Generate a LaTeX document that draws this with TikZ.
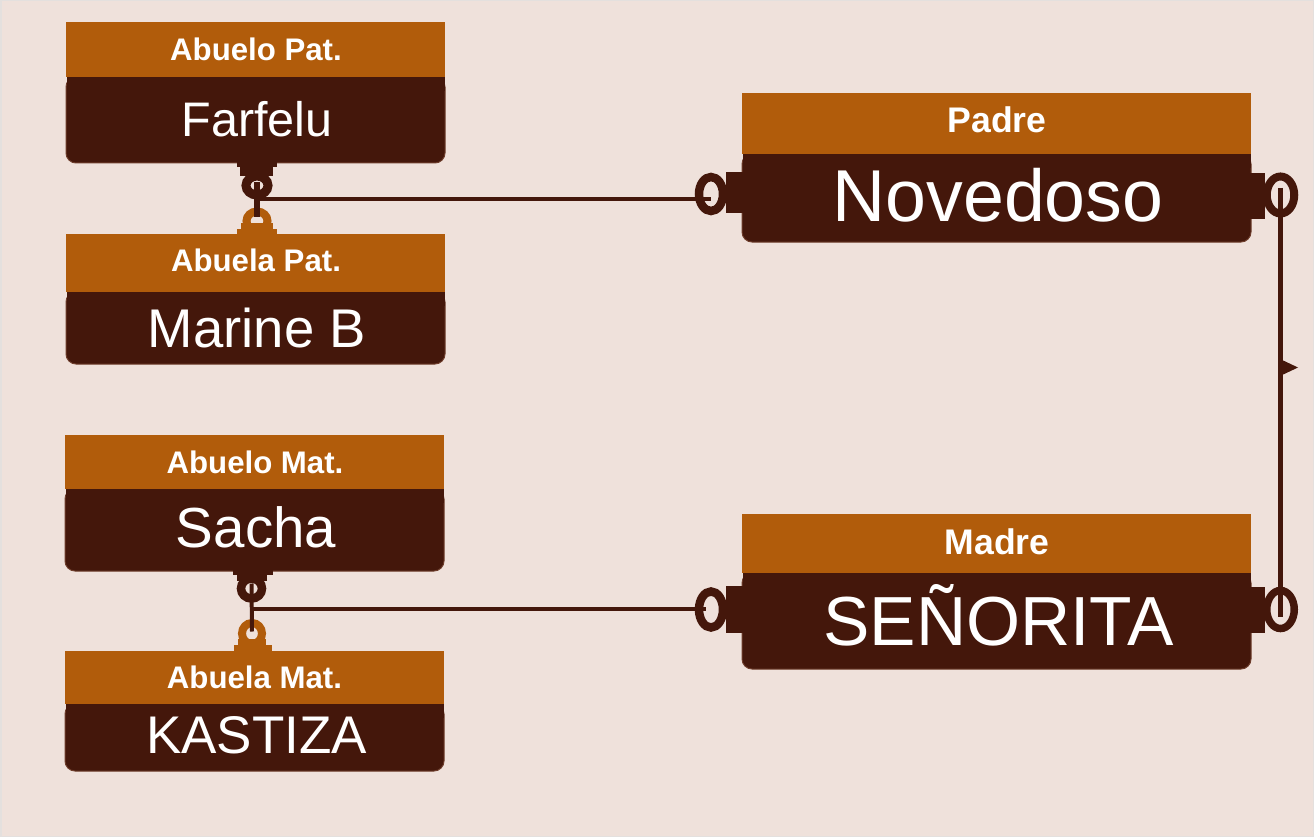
\documentclass[tikz,border=0pt]{standalone}
\usepackage{fontspec}
\setmainfont{Liberation Sans}
\usetikzlibrary{shapes.geometric}
\definecolor{bgc}{HTML}{EFE1DB}
\definecolor{hdr}{HTML}{B15C0B}
\definecolor{bdy}{HTML}{44170B}
\definecolor{edgec}{HTML}{6E3D2C}
\definecolor{framec}{HTML}{E4E0DE}
\newcommand\fsz[1]{\fontsize{#1}{#1}\selectfont}
\newcommand\entitybox[5]{%
  \filldraw[fill=bdy, draw=edgec, line width=1pt, rounded corners=10pt] (#1,#4) rectangle (#2,#5);
  \fill[bdy] (#1+0.5,#4) rectangle (#2-0.5,#4+14);
  \fill[hdr] (#1,#3) rectangle (#2,#4);
}
\begin{document}
\begin{tikzpicture}[x=1pt,y=-1pt,
  txt/.style={text=white, inner sep=0pt, anchor=base},
  htxt/.style={txt, font=\bfseries\fsz{31.2}},
  bightxt/.style={txt, font=\bfseries\fsz{35.6}},
  ringd/.style={ellipse, draw=bdy, inner sep=0pt},
  ringo/.style={ellipse, draw=hdr, inner sep=0pt},
  conn/.style={draw=bdy, line width=4pt},
]
\fill[bgc] (0,0) rectangle (1314,837);
\draw[framec, line width=1.5pt] (0.75,0.75) rectangle (1313.25,836.25);
\useasboundingbox (0,0) rectangle (1314,837);

% entity boxes
\entitybox{66}{445}{22}{77}{163}
\entitybox{66}{445}{234}{292}{364}
\entitybox{65}{444}{435}{489}{571}
\entitybox{65}{444}{651}{704}{771}
\entitybox{742}{1251}{93}{154}{242}
\entitybox{742}{1251}{514}{573}{669}

% texts
\node[htxt] (apH) at (256,60.5) {Abuelo Pat.};
\node[txt, font=\fsz{48.5}] (apB) at (257,137) {Farfelu};
\node[htxt] (bpH) at (256,271) {Abuela Pat.};
\node[txt, font=\fsz{54.5}] (bpB) at (257,347.5) {Marine B};
\node[htxt] (amH) at (255,473) {Abuelo Mat.};
\node[txt, font=\fsz{56.5}] (amB) at (256,547.5) {Sacha};
\node[htxt] (bmH) at (254.5,688) {Abuela Mat.};
\node[txt, font=\fsz{53}] (bmB) at (256.5,753.5) {KASTIZA};
\node[bightxt] (paH) at (997,133) {Padre};
\node[txt, font=\fsz{73.5}] (paB) at (998,222) {Novedoso};
\node[bightxt] (maH) at (997,554) {Madre};
\node[txt, font=\fsz{69.5}] (maB) at (998.5,645) {SEÑORITA};

% tabs
\fill[bdy] (237,162) rectangle (277,167);
\fill[bdy] (240,166) rectangle (273,176);
\fill[hdr] (241,223) rectangle (273,230);
\fill[hdr] (237,229) rectangle (277,235);
\fill[bdy] (233,570) rectangle (273,575);
\fill[bdy] (237,574) rectangle (267,581);
\fill[hdr] (238,639) rectangle (266,646);
\fill[hdr] (234,645) rectangle (272,651);
\fill[bdy] (726,172) rectangle (743,213);
\fill[bdy] (1250,173) rectangle (1265,219);
\fill[bdy] (726,586) rectangle (743,633);
\fill[bdy] (1250,587) rectangle (1265,633);

% rings
\node[ringd, line width=9pt, minimum width=22pt, minimum height=19pt] (r1) at (257,185.5) {};
\node[ringo, line width=8pt, minimum width=21pt, minimum height=19pt] (r2) at (257,221) {};
\node[ringd, line width=8.5pt, minimum width=21pt, minimum height=20pt] (r3) at (251.5,588.5) {};
\node[ringo, line width=8pt, minimum width=20pt, minimum height=21pt] (r4) at (252,633.5) {};
\node[ringd, line width=8.5pt, minimum width=24pt, minimum height=34pt] (r5) at (711,194) {};
\node[ringd, line width=8pt, minimum width=27.5pt, minimum height=37pt] (r6) at (1280.5,195) {};
\node[ringd, line width=8.5pt, minimum width=24pt, minimum height=36pt] (r7) at (711,609.5) {};
\node[ringd, line width=7.5pt, minimum width=27.5pt, minimum height=38pt] (r8) at (1280.5,609.5) {};

% connectors
\coordinate (jU) at (256,199);
\coordinate (jL) at (252,608.5);
\draw[conn, line width=6pt] ([yshift=3pt]r1.center) -- ([yshift=4pt]r2.center);
\draw[conn] (jU) -- (jU -| r5.center);
\draw[conn] ([yshift=5pt]r3.center) -- ([yshift=2pt]r4.center);
\draw[conn] (jL) -- ([xshift=-5pt]jL -| r7.center);
\draw[conn, line width=5pt] ([yshift=7pt]r6.center) -- ([yshift=-7.5pt]r8.center);
\coordinate (flag) at (1280,367.5);
\fill[bdy] (flag) ++(0,-8.5) -- ++(18,8.5) -- ++(-18,8.5) -- cycle;
\end{tikzpicture}
\end{document}
